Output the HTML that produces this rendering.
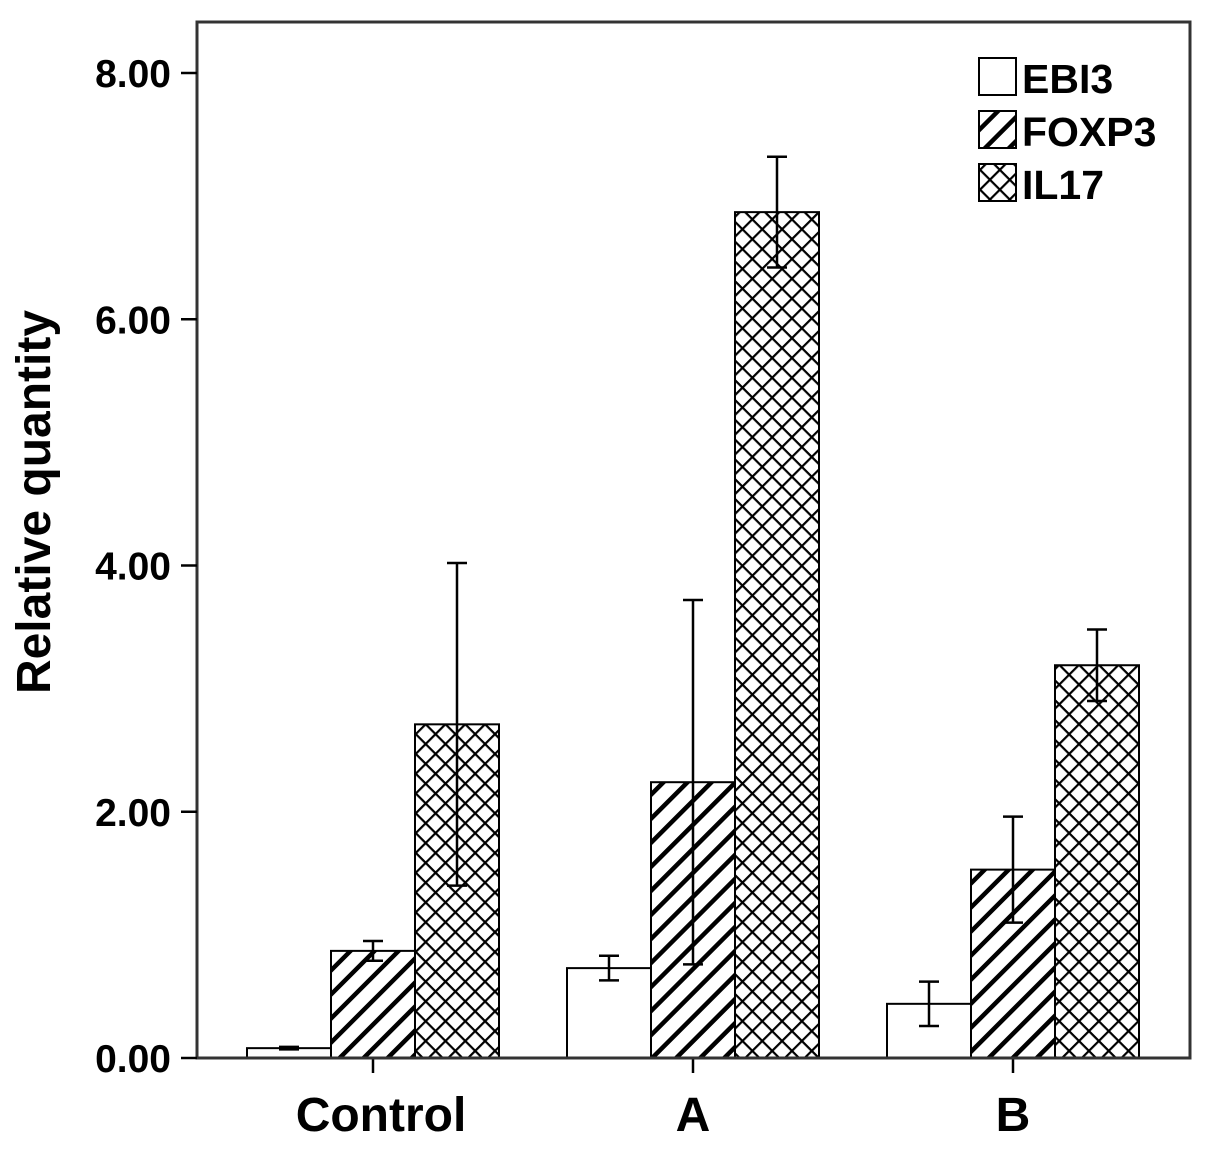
<!DOCTYPE html>
<html><head><meta charset="utf-8"><style>
body{margin:0;background:#fff}
svg{display:block;font-family:"Liberation Sans",Arial,sans-serif;font-weight:bold}
</style></head><body>
<svg id="c" width="1205" height="1152" xmlns="http://www.w3.org/2000/svg">
<defs>
<pattern id="diag" patternUnits="userSpaceOnUse" width="17" height="17" patternTransform="rotate(45)">
<rect width="17" height="17" fill="#fff"/><rect x="0" y="0" width="4.5" height="17" fill="#000"/></pattern>
<pattern id="cross" patternUnits="userSpaceOnUse" width="14" height="14" patternTransform="rotate(45)">
<rect width="14" height="14" fill="#fff"/><rect x="0" y="0" width="2.2" height="14" fill="#000"/><rect x="0" y="0" width="14" height="2.2" fill="#000"/></pattern>
</defs>
<g id="plot"></g>
</svg>
<script>
const categories=["Control","A","B"];
const series=["EBI3","FOXP3","IL17"];
const ebi3=[0.08,0.73,0.44];
const foxp3=[0.87,2.24,1.53];
const il17=[2.71,6.87,3.19];
const ebi3Err=[0.01,0.10,0.18];
const foxp3Err=[0.08,1.48,0.43];
const il17Err=[1.31,0.45,0.29];
const yTicks=[0,2,4,6,8];
const yTickLabels=["0.00","2.00","4.00","6.00","8.00"];

const NS="http://www.w3.org/2000/svg";
const g=document.getElementById('plot');
const L=197,R=1190,T=22,B=1058;
const y=v=>B-v*(1058-73)/8;
const xc=i=>373+i*320;
const bw=84;
function el(t,a,p){const e=document.createElementNS(NS,t);for(const k in a)e.setAttribute(k,a[k]);(p||g).appendChild(e);return e;}
const fills=["#fff","url(#diag)","url(#cross)"];
const vals=[ebi3,foxp3,il17], errs=[ebi3Err,foxp3Err,il17Err];
categories.forEach((c,i)=>{
  vals.forEach((arr,s)=>{
    const x0=xc(i)+(s-1.5)*bw;
    const r=el('rect',{x:x0,y:y(arr[i]),width:bw,height:B-y(arr[i]),fill:fills[s],stroke:'#000','stroke-width':2});
    
    
  });
  vals.forEach((arr,s)=>{
    const cx=xc(i)+(s-1)*bw;
    const hi=y(arr[i]+errs[s][i]), lo=y(arr[i]-errs[s][i]);
    const eg=el('g',{stroke:'#000','stroke-width':2.5});
    
    
    el('line',{x1:cx,x2:cx,y1:hi,y2:lo},eg);
    el('line',{x1:cx-10,x2:cx+10,y1:hi,y2:hi},eg);
    el('line',{x1:cx-10,x2:cx+10,y1:lo,y2:lo},eg);
  });
  const tk=el('line',{x1:xc(i),x2:xc(i),y1:B,y2:B+15,stroke:'#000','stroke-width':2.5});
  
  
  const t=el('text',{x:xc(i)+(i==0?8:0),y:1131,'text-anchor':'middle','font-size':48});
  t.textContent=c;
  
  
});
const fr=el('rect',{x:L,y:T,width:R-L,height:B-T,fill:'none',stroke:'#333','stroke-width':3});


yTicks.forEach((v,k)=>{
  const l=el('line',{x1:L-16,x2:L,y1:y(v),y2:y(v),stroke:'#000','stroke-width':2.5});
  
  
  const t=el('text',{x:L-26,y:y(v)+14,'text-anchor':'end','font-size':39});
  t.textContent=yTickLabels[k];
  
  
});
const yt=el('text',{x:0,y:0,transform:'translate(50,502) rotate(-90)','text-anchor':'middle','font-size':48});
yt.textContent='Relative quantity';


series.forEach((s,k)=>{
  const lg=el('g',{});
  
  
  const yy=58+k*53;
  el('rect',{x:979,y:yy,width:37,height:37,fill:fills[k],stroke:'#000','stroke-width':2},lg);
  const t=el('text',{x:1022,y:yy+35,'font-size':41},lg);
  t.textContent=s;
});
</script>
</body></html>
